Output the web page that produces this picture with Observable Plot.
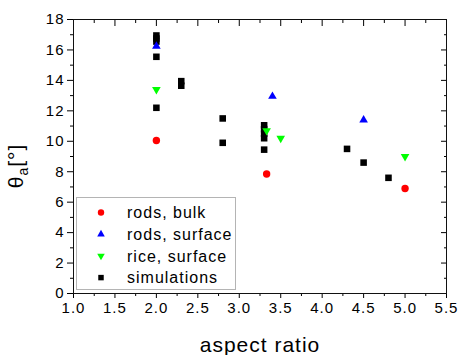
<!DOCTYPE html>
<html><head><meta charset="utf-8">
<script src="https://cdn.jsdelivr.net/npm/d3@7"></script>
<script src="https://cdn.jsdelivr.net/npm/@observablehq/plot@0.6"></script>
<style>body{margin:0;background:#fff} #chart{position:relative;width:461px;height:355px}</style>
</head><body><div id="chart"></div>
<script>
const seriesNames = ["rods, bulk", "rods, surface", "rice, surface", "simulations"];
const seriesColors = ["#ff0000", "#0000ff", "#00ff00", "#000000"];
const seriesSymbols = ["circle", "triangle", "triangle-down", "square"];

const rodsBulkX = [2.0, 3.33, 5.0];
const rodsBulkY = [10.05, 7.85, 6.9];
const rodsSurfaceX = [2.0, 3.4, 4.5];
const rodsSurfaceY = [16.25, 12.95, 11.4];
const riceSurfaceX = [2.0, 3.33, 3.5, 5.0];
const riceSurfaceY = [13.4, 10.7, 10.2, 9.0];
const simX = [2.0, 2.0, 2.0, 2.0, 2.0, 2.3, 2.3, 2.8, 2.8, 3.3, 3.3, 3.3, 3.3, 3.3, 4.3, 4.5, 4.8];
const simY = [16.95, 16.75, 16.55, 15.55, 12.2, 13.95, 13.65, 11.5, 9.9, 11.05, 10.8, 10.5, 10.2, 9.45, 9.5, 8.6, 7.6];

const xMajorTicks = [1.0, 1.5, 2.0, 2.5, 3.0, 3.5, 4.0, 4.5, 5.0, 5.5];
const xMinorTicks = [1.25, 1.75, 2.25, 2.75, 3.25, 3.75, 4.25, 4.75, 5.25];
const yMajorTicks = [0, 2, 4, 6, 8, 10, 12, 14, 16, 18];
const yMinorTicks = [1, 3, 5, 7, 9, 11, 13, 15, 17];
const xTitle = "aspect ratio";

const rows = (xs, ys) => xs.map((x, i) => ({x, y: ys[i]}));

const plot = Plot.plot({
  width: 461, height: 355,
  marginLeft: 73, marginRight: 15, marginTop: 19, marginBottom: 62,
  x: {domain: [1, 5.5]},
  y: {domain: [0, 18]},
  style: "font-family: 'Liberation Sans', Arial, sans-serif; font-size: 15px; letter-spacing: 1px; color: #000; background: #fff; overflow: visible;",
  marks: [
    Plot.axisX({ticks: xMinorTicks, tickSize: 3, tickFormat: () => "", label: null}),
    Plot.axisX({ticks: xMajorTicks, tickSize: 5, tickPadding: 4, tickFormat: d => d.toFixed(1), label: null}),
    Plot.axisX({anchor: "top", ticks: xMinorTicks, tickSize: 3, dy: 3, tickFormat: () => "", label: null}),
    Plot.axisX({anchor: "top", ticks: xMajorTicks, tickSize: 6, dy: 6, tickFormat: () => "", label: null}),
    Plot.axisY({ticks: yMinorTicks, tickSize: 3, tickFormat: () => "", label: null}),
    Plot.axisY({ticks: yMajorTicks, tickSize: 6, tickPadding: 3, label: null}),
    Plot.axisY({anchor: "right", ticks: yMinorTicks, tickSize: 3, dx: -3, tickFormat: () => "", label: null}),
    Plot.axisY({anchor: "right", ticks: yMajorTicks, tickSize: 6, dx: -6, tickFormat: () => "", label: null}),
    Plot.frame({stroke: "#111"}),
    Plot.dot(rows(simX, simY), {x: "x", y: "y", symbol: "square", r: 3.7, fill: seriesColors[3]}),
    Plot.dot(rows(rodsBulkX, rodsBulkY), {x: "x", y: "y", symbol: "circle", r: 3.7, fill: seriesColors[0]}),
    Plot.dot(rows(rodsSurfaceX, rodsSurfaceY), {x: "x", y: "y", symbol: "triangle", r: 3.2, fill: seriesColors[1]}),
    Plot.dot(rows(riceSurfaceX, riceSurfaceY), {x: "x", y: "y", symbol: "triangle", rotate: 180, r: 3.2, fill: seriesColors[2]}),
    Plot.text([xTitle], {frameAnchor: "bottom", dy: 52, fontSize: 21, lineAnchor: "middle"})
  ]
});
document.getElementById("chart").appendChild(plot);

const svg = d3.select(plot);
// y-axis title with subscript
const yt = svg.append("text")
  .attr("transform", "translate(23,166) rotate(-90)")
  .attr("text-anchor", "middle")
  .attr("font-size", 21)
  .attr("fill", "#000");
yt.append("tspan").text("θ");
yt.append("tspan").attr("font-size", 14).attr("dy", 5).text("a");
yt.append("tspan").attr("dy", -5).text("[°]");

// legend
const lg = svg.append("g").attr("text-anchor", "start");
lg.append("rect").attr("x", 76.5).attr("y", 197.5).attr("width", 159).attr("height", 92)
  .attr("fill", "#fff").attr("stroke", "#b4b4b4");
seriesNames.forEach((name, i) => {
  const cy = 212.5 + i * 21.7;
  const sym = seriesSymbols[i];
  let path;
  if (sym === "circle") path = d3.symbol(d3.symbolCircle, Math.PI * 3.2 * 3.2)();
  else if (sym === "square") path = d3.symbol(d3.symbolSquare, 30)();
  else path = d3.symbol(d3.symbolTriangle, Math.PI * 2.8 * 2.8)();
  lg.append("path").attr("d", path)
    .attr("transform", `translate(101,${cy})` + (sym === "triangle-down" ? " rotate(180)" : ""))
    .attr("fill", seriesColors[i]);
  lg.append("text").attr("x", 127).attr("y", cy).attr("dy", "0.35em")
    .attr("text-anchor", "start")
    .attr("font-size", 16).attr("fill", "#000").text(name);
});
</script>
</body></html>
